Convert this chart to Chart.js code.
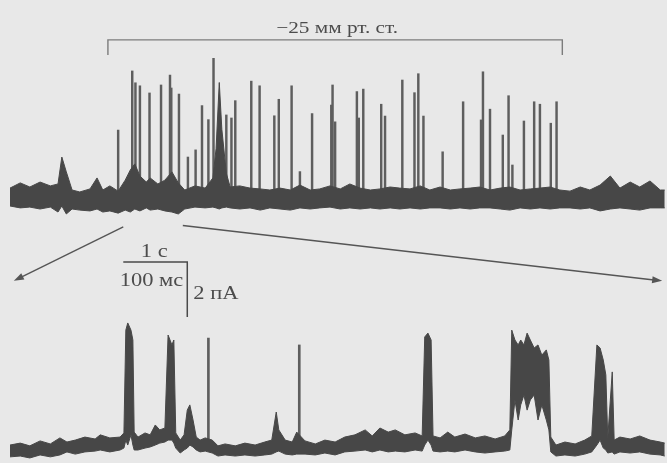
<!DOCTYPE html>
<html lang="ru">
<head>
<meta charset="utf-8">
<title>Одиночные каналы</title>
<script src="https://cdn.jsdelivr.net/npm/chart.js@4.4.1/dist/chart.umd.min.js"></script>
<style>
    html, body { margin: 0; padding: 0; background: #e8e8e8; }
    #traceChart { display: block; }
</style>
</head>
<body>
<canvas id="traceChart" width="667" height="463"></canvas>
<script>
// Upper record (1 s scale): time in s, envelope of the closed-level noise in pA
const topTimes = [0, 0.16, 0.31, 0.47, 0.63, 0.75, 0.81, 0.88, 0.97, 1.09, 1.25, 1.36, 1.45, 1.56, 1.69, 1.80,
    1.88, 1.95, 2.03, 2.13, 2.19, 2.31, 2.42, 2.53, 2.63, 2.73, 2.89, 3.05, 3.17, 3.22, 3.27, 3.31, 3.38, 3.44,
    3.59, 3.75, 3.91, 4.06, 4.22, 4.38, 4.53, 4.69, 4.84, 5.00, 5.16, 5.31, 5.47, 5.63, 5.78, 5.94, 6.09, 6.25,
    6.41, 6.56, 6.72, 6.88, 7.03, 7.19, 7.34, 7.50, 7.66, 7.81, 7.97, 8.13, 8.28, 8.44, 8.59, 8.75, 8.91, 9.06,
    9.22, 9.38, 9.53, 9.69, 9.84, 10.00, 10.16, 10.23];
const topUpper = [0.36, 0.55, 0.40, 0.58, 0.44, 0.51, 1.49, 0.95, 0.29, 0.22, 0.33, 0.73, 0.29, 0.44, 0.25, 0.65,
    1.02, 1.24, 0.80, 0.58, 0.73, 0.51, 0.65, 0.95, 0.55, 0.29, 0.44, 0.36, 0.73, 1.80, 4.20, 2.50, 0.90, 0.40,
    0.44, 0.36, 0.33, 0.29, 0.36, 0.29, 0.47, 0.29, 0.33, 0.44, 0.33, 0.51, 0.36, 0.29, 0.33, 0.40, 0.36, 0.33,
    0.44, 0.29, 0.40, 0.29, 0.33, 0.36, 0.40, 0.29, 0.36, 0.40, 0.29, 0.33, 0.36, 0.40, 0.29, 0.25, 0.40, 0.29,
    0.47, 0.80, 0.36, 0.58, 0.40, 0.62, 0.29, 0.29];
const topLower = [-0.29, -0.36, -0.33, -0.40, -0.33, -0.51, -0.29, -0.58, -0.40, -0.44, -0.47, -0.40, -0.51, -0.47, -0.55, -0.44,
    -0.51, -0.40, -0.47, -0.36, -0.44, -0.40, -0.47, -0.51, -0.58, -0.40, -0.33, -0.36, -0.33, -0.36, -0.40, -0.36, -0.33, -0.36,
    -0.40, -0.36, -0.44, -0.36, -0.40, -0.44, -0.36, -0.40, -0.36, -0.33, -0.40, -0.36, -0.40, -0.36, -0.40, -0.36, -0.40, -0.36,
    -0.40, -0.36, -0.36, -0.40, -0.36, -0.40, -0.36, -0.36, -0.40, -0.44, -0.36, -0.40, -0.36, -0.40, -0.36, -0.36, -0.40, -0.36,
    -0.47, -0.40, -0.36, -0.40, -0.44, -0.36, -0.36, -0.36];

// Brief openings in the upper record (s, pA)
const spikeTimes = [1.69, 1.91, 1.96, 2.03, 2.18, 2.36, 2.50, 2.52, 2.64, 2.78, 2.90, 3.00, 3.10, 3.18, 3.38, 3.46,
    3.52, 3.77, 3.90, 4.13, 4.20, 4.40, 4.53, 4.72, 5.02, 5.04, 5.08, 5.42, 5.45, 5.52, 5.80, 5.86, 6.13, 6.32,
    6.38, 6.46, 6.76, 7.08, 7.36, 7.39, 7.50, 7.70, 7.79, 7.85, 8.03, 8.19, 8.28, 8.45, 8.54];
const spikeAmps = [2.47, 4.62, 4.19, 4.08, 3.82, 4.11, 4.47, 4.00, 3.78, 1.49, 1.75, 3.36, 2.85, 5.08, 3.02, 2.91,
    3.54, 4.25, 4.08, 2.99, 3.59, 4.08, 0.96, 3.07, 3.38, 4.11, 2.77, 3.87, 2.91, 3.96, 3.41, 2.98, 4.29, 3.83,
    4.52, 2.98, 1.68, 3.50, 2.84, 4.59, 3.23, 2.29, 3.72, 1.20, 2.80, 3.50, 3.41, 2.72, 3.50];

// Lower record, expanded (100 ms scale): time in ms, envelope in pA
const botTimes = [0, 16, 31, 47, 63, 78, 89, 102, 117, 133, 141, 156, 172, 178, 181, 184, 189, 192, 194, 200,
    211, 219, 227, 234, 242, 247, 253, 256, 259, 266, 272, 277, 281, 286, 291, 297, 305, 316, 325, 336, 352,
    367, 383, 398, 409, 416, 420, 430, 441, 448, 461, 477, 492, 508, 523, 539, 555, 566, 578, 591, 602, 617,
    633, 644, 648, 653, 658, 661, 672, 684, 695, 711, 727, 742, 758, 773, 781, 784, 789, 794, 798, 803, 808,
    813, 819, 825, 831, 838, 842, 845, 853, 867, 883, 898, 909, 917, 922, 927, 931, 934, 941, 944, 953, 969,
    984, 1000, 1016, 1023];
const botUpper = [0.18, 0.25, 0.15, 0.33, 0.22, 0.44, 0.29, 0.36, 0.47, 0.40, 0.55, 0.44, 0.47, 0.62, 4.36, 4.62,
    4.36, 4.00, 0.65, 0.47, 0.62, 0.55, 0.91, 0.73, 0.80, 4.18, 3.82, 4.00, 0.62, 0.36, 0.55, 1.45, 1.64, 1.09,
    0.47, 0.36, 0.44, 0.36, 0.15, 0.22, 0.15, 0.25, 0.18, 0.29, 0.36, 1.38, 0.73, 0.36, 0.29, 0.65, 0.33, 0.22,
    0.36, 0.29, 0.47, 0.55, 0.73, 0.51, 0.80, 0.65, 0.73, 0.55, 0.62, 0.51, 4.11, 4.25, 4.00, 0.51, 0.44, 0.65,
    0.47, 0.58, 0.44, 0.51, 0.40, 0.51, 0.73, 4.36, 4.00, 3.82, 4.00, 3.82, 4.25, 4.00, 3.71, 3.82, 3.45, 3.64,
    3.27, 0.47, 0.18, 0.29, 0.22, 0.36, 0.51, 3.82, 3.71, 3.27, 2.73, 0.44, 2.84, 0.36, 0.47, 0.40, 0.51, 0.36,
    0.29, 0.25];
const botLower = [-0.25, -0.22, -0.29, -0.18, -0.25, -0.18, -0.07, -0.15, -0.07, -0.04, 0, -0.07, 0, 0.07, 0.36, 0.18,
    0.55, 0.18, 0, 0, 0.07, 0.11, 0.18, 0.25, 0.29, 0.36, 0.36, 0.25, 0.07, -0.11, 0, 0.07, 0.18, 0.11,
    0, -0.07, -0.04, -0.11, -0.22, -0.18, -0.22, -0.18, -0.22, -0.18, -0.15, -0.07, -0.04, -0.15, -0.18, -0.15, -0.15, -0.18,
    -0.11, -0.18, -0.07, -0.04, 0, -0.07, 0, -0.07, -0.04, -0.07, 0, -0.04, 0.18, 0.36, 0.18, -0.04, -0.07, -0.04,
    -0.07, 0, -0.07, -0.11, -0.07, -0.04, 0, 0.73, 1.82, 1.09, 1.64, 2.00, 1.45, 1.82, 2.00, 1.09, 1.64, 1.09,
    0.73, -0.07, -0.22, -0.18, -0.22, -0.15, -0.07, 0.18, 0.36, 0.07, 0, -0.11, -0.07, -0.15, -0.07, -0.11, -0.07, -0.15,
    -0.18, -0.22];

// Brief openings in the lower record (ms, pA)
const botSpikeTimes = [310, 452];
const botSpikeAmps = [4.07, 3.82];

// suction period and the stretch of the upper record shown below (s)
const pressureOn = 1.53;
const pressureOff = 8.63;
const zoomFrom = 1.77;
const zoomTo = 2.70;

const traceColor = '#474747';
const spikeColor = '#5e5e5e';
const inkColor = '#4c4c4c';

function toPoints(xs, ys) {
    return xs.map((x, i) => ({ x: x, y: ys[i] }));
}

function toBars(xs, ys) {
    return xs.map((x, i) => ({ x: x, y: [0, ys[i]] }));
}

function stretchedText(ctx, text, x, y, align) {
    ctx.save();
    ctx.translate(x, y);
    ctx.scale(1.25, 1);
    ctx.textAlign = align;
    ctx.fillText(text, 0, 0);
    ctx.restore();
}

function arrow(ctx, x1, y1, x2, y2) {
    const a = Math.atan2(y2 - y1, x2 - x1);
    ctx.beginPath();
    ctx.moveTo(x1, y1);
    ctx.lineTo(x2 - 6 * Math.cos(a), y2 - 6 * Math.sin(a));
    ctx.stroke();
    ctx.beginPath();
    ctx.moveTo(x2, y2);
    ctx.lineTo(x2 - 10 * Math.cos(a) + 3.5 * Math.sin(a), y2 - 10 * Math.sin(a) - 3.5 * Math.cos(a));
    ctx.lineTo(x2 - 10 * Math.cos(a) - 3.5 * Math.sin(a), y2 - 10 * Math.sin(a) + 3.5 * Math.cos(a));
    ctx.closePath();
    ctx.fill();
}

// bracket, arrows and calibration bars
const annotations = {
    id: 'annotations',
    afterDatasetsDraw(chart) {
        const ctx = chart.ctx;
        const xT = chart.scales.xTop, yT = chart.scales.yTop;
        const xB = chart.scales.xBot, yB = chart.scales.yBot;
        ctx.save();
        ctx.lineCap = 'butt';

        // suction bracket
        const bx1 = xT.getPixelForValue(pressureOn);
        const bx2 = xT.getPixelForValue(pressureOff);
        const by = yT.getPixelForValue(5.75);
        const bt = yT.getPixelForValue(5.2);
        ctx.strokeStyle = '#7c7c7c';
        ctx.lineWidth = 1.4;
        ctx.beginPath();
        ctx.moveTo(bx1, bt);
        ctx.lineTo(bx1, by);
        ctx.lineTo(bx2, by);
        ctx.lineTo(bx2, bt);
        ctx.stroke();
        ctx.fillStyle = inkColor;
        ctx.font = '17px "Liberation Serif", serif';
        stretchedText(ctx, '\u221225 мм рт. ст.', (bx1 + bx2) / 2 + 2, yT.getPixelForValue(6.0), 'center');

        // arrows to the expanded record
        ctx.strokeStyle = '#555555';
        ctx.fillStyle = '#555555';
        ctx.lineWidth = 1.4;
        arrow(ctx, xT.getPixelForValue(zoomFrom), yT.getPixelForValue(-1.05),
            xB.getPixelForValue(6), yB.getPixelForValue(6.15));
        arrow(ctx, xT.getPixelForValue(zoomTo), yT.getPixelForValue(-1.0),
            xB.getPixelForValue(1019), yB.getPixelForValue(6.15));

        // calibration: 1 s (upper) = 100 ms (lower), 2 pA
        const sx1 = xB.getPixelForValue(177);
        const sx2 = xB.getPixelForValue(277);
        const sy1 = yB.getPixelForValue(6.84);
        const sy2 = yB.getPixelForValue(6.84 - 2);
        ctx.strokeStyle = '#4a4a4a';
        ctx.lineWidth = 1.5;
        ctx.beginPath();
        ctx.moveTo(sx1, sy1);
        ctx.lineTo(sx2, sy1);
        ctx.lineTo(sx2, sy2);
        ctx.stroke();
        ctx.fillStyle = inkColor;
        ctx.font = '18px "Liberation Serif", serif';
        stretchedText(ctx, '1 с', (sx1 + sx2) / 2 - 1, sy1 - 5, 'center');
        stretchedText(ctx, '100 мс', sx2 - 4, sy1 + 24, 'right');
        stretchedText(ctx, '2 пА', sx2 + 6, sy1 + 37, 'left');
        ctx.restore();
    }
};

const ctx = document.getElementById('traceChart').getContext('2d');
new Chart(ctx, {
    type: 'line',
    data: {
        datasets: [
            {
                label: 'top lower',
                data: toPoints(topTimes, topLower),
                xAxisID: 'xTop', yAxisID: 'yTop',
                borderColor: traceColor, borderWidth: 1, pointRadius: 0, fill: false
            },
            {
                label: 'top upper',
                data: toPoints(topTimes, topUpper),
                xAxisID: 'xTop', yAxisID: 'yTop',
                borderColor: traceColor, backgroundColor: traceColor,
                borderWidth: 1, pointRadius: 0, fill: '-1'
            },
            {
                label: 'bottom lower',
                data: toPoints(botTimes, botLower),
                xAxisID: 'xBot', yAxisID: 'yBot',
                borderColor: traceColor, borderWidth: 1, pointRadius: 0, fill: false
            },
            {
                label: 'bottom upper',
                data: toPoints(botTimes, botUpper),
                xAxisID: 'xBot', yAxisID: 'yBot',
                borderColor: traceColor, backgroundColor: traceColor,
                borderWidth: 1, pointRadius: 0, fill: '-1'
            },
            {
                type: 'bar',
                label: 'openings',
                data: toBars(spikeTimes, spikeAmps),
                xAxisID: 'xTop', yAxisID: 'yTop',
                backgroundColor: spikeColor, barThickness: 1.8, grouped: false
            },
            {
                type: 'bar',
                label: 'openings expanded',
                data: toBars(botSpikeTimes, botSpikeAmps),
                xAxisID: 'xBot', yAxisID: 'yBot',
                backgroundColor: spikeColor, barThickness: 2, grouped: false
            }
        ]
    },
    options: {
        responsive: false,
        animation: false,
        events: [],
        layout: { padding: 0 },
        elements: { line: { tension: 0 } },
        plugins: {
            legend: { display: false },
            tooltip: { enabled: false }
        },
        scales: {
            xTop: { type: 'linear', display: false, offset: false, min: -0.15625, max: 10.265625 },
            yTop: { type: 'linear', display: false, min: -9.636, max: 7.2 },
            xBot: { type: 'linear', display: false, offset: false, min: -15.625, max: 1026.5625 },
            yBot: { type: 'linear', display: false, min: -0.473, max: 16.364 }
        }
    },
    plugins: [annotations]
});
</script>
</body>
</html>
